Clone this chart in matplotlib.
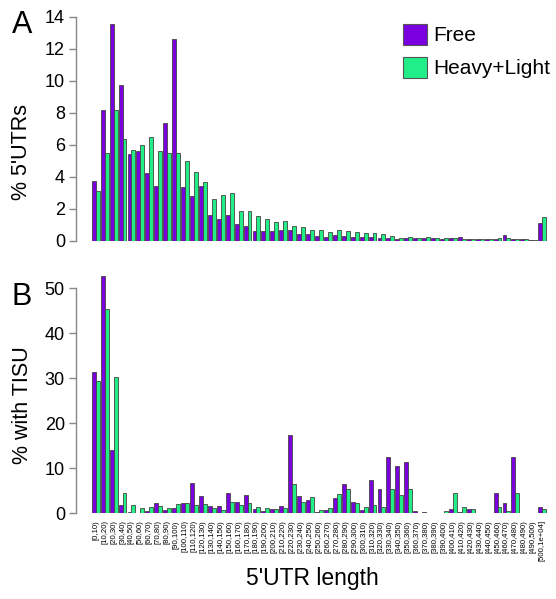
import matplotlib
matplotlib.use("Agg")
import matplotlib.pyplot as plt
import numpy as np
from matplotlib.patches import Patch

plt.rcParams['font.family'] = ['Liberation Sans', 'DejaVu Sans']

categories = ["[0,10)"] + [f"[{a},{a+10})" for a in range(10, 500, 10)] + ["[500,1e+04]"]

pct_free = [3.75, 8.2, 13.55, 9.75, 5.45, 5.65, 4.25, 3.45, 7.4, 12.6,
            3.35, 2.8, 3.45, 1.6, 1.4, 1.65, 1.05, 0.95, 0.6, 0.65,
            0.63, 0.69, 0.67, 0.44, 0.44, 0.33, 0.27, 0.38, 0.29, 0.25,
            0.25, 0.25, 0.21, 0.17, 0.15, 0.17, 0.17, 0.17, 0.2, 0.13,
            0.17, 0.23, 0.12, 0.1, 0.12, 0.15, 0.35, 0.15, 0.1, 0.08, 1.15]
pct_hl = [3.15, 5.5, 8.2, 6.4, 5.7, 6.0, 6.5, 5.6, 5.5, 5.5,
          5.0, 4.3, 3.7, 2.65, 2.9, 3.0, 1.9, 1.9, 1.55, 1.36,
          1.17, 1.23, 0.94, 0.85, 0.69, 0.69, 0.58, 0.67, 0.63, 0.54,
          0.52, 0.48, 0.42, 0.29, 0.21, 0.25, 0.2, 0.23, 0.2, 0.17,
          0.17, 0.15, 0.12, 0.12, 0.14, 0.2, 0.2, 0.15, 0.1, 0.08, 1.52]

tisu_free = [31.5, 52.7, 14.1, 1.85, 0.2, 0.15, 0.4, 2.3, 0.67, 1.1,
             2.3, 6.7, 3.85, 1.7, 1.7, 4.6, 2.6, 4.1, 1.0, 0.5,
             1.0, 1.55, 17.5, 3.85, 3.0, 0.3, 0.74, 3.3, 6.6, 2.4,
             0.67, 7.3, 5.3, 12.4, 10.4, 11.5, 0.6, 0.2, 0.1, 0.1,
             0.9, 0.2, 1.0, 0.1, 0.1, 4.6, 2.2, 12.4, 0.1, 0.1, 1.3]
tisu_hl = [29.3, 45.3, 30.4, 4.4, 1.85, 1.26, 1.4, 1.7, 1.1, 2.0,
           2.3, 1.85, 2.15, 1.1, 0.8, 2.4, 1.85, 2.3, 1.4, 1.1,
           1.0, 1.26, 6.4, 2.5, 3.7, 0.8, 1.1, 4.2, 5.3, 2.2,
           1.4, 1.85, 1.5, 5.5, 4.1, 5.3, 0.15, 0.1, 0.1, 0.4,
           4.6, 1.4, 1.0, 0.1, 0.1, 1.4, 0.5, 4.4, 0.1, 0.1, 1.0]

series_names = ["Free", "Heavy+Light"]
colors = ["#7A00E0", "#22EE88"]
edge = "#444444"

W, H = 556, 599
fig = plt.figure(figsize=(W / 100, H / 100), dpi=100)

def px_axes(left, top, right, bottom):
    return fig.add_axes([left / W, 1 - bottom / H, (right - left) / W, (bottom - top) / H])

x = np.arange(len(categories))
bw = 0.44
unit = 8.93
xl = -0.45 - (91.7 - 76) / unit
xr = xl + (548 - 76) / unit

def style(ax, top, step):
    for s in ['top', 'right', 'bottom']:
        ax.spines[s].set_visible(False)
    ax.spines['left'].set_color('#888888')
    ax.spines['left'].set_linewidth(1.0)
    ax.spines['left'].set_bounds(0, top)
    ax.set_yticks(np.arange(0, top + 0.01, step))
    ax.tick_params(axis='y', direction='out', length=5, width=1.0, color='#888888',
                   labelsize=13, pad=3)
    ax.set_xlim(xl, xr)

# Panel A
axA = px_axes(76, 17, 548, 241)
axA.bar(x - bw / 2, pct_free, bw, color=colors[0], edgecolor=edge, linewidth=0.6)
axA.bar(x + bw / 2, pct_hl, bw, color=colors[1], edgecolor=edge, linewidth=0.6)
axA.set_ylim(0, 14)
style(axA, 14, 2)
axA.set_xticks([])

# Panel B
axB = px_axes(76, 513.3 - 55 * 4.5, 548, 513.3)
axB.bar(x - bw / 2, tisu_free, bw, color=colors[0], edgecolor=edge, linewidth=0.6)
axB.bar(x + bw / 2, tisu_hl, bw, color=colors[1], edgecolor=edge, linewidth=0.6)
axB.set_ylim(0, 55)
style(axB, 50, 10)
axB.set_xticks(x)
axB.set_xticklabels(categories, rotation=90, fontsize=5.6, va='top', ha='center')
axB.tick_params(axis='x', length=0, pad=5)

# Legend
handles = [Patch(facecolor=c, edgecolor='#555555', linewidth=0.8) for c in colors]
fig.legend(handles, series_names, loc='upper left',
           bbox_to_anchor=(403 / W, 1 - 24 / H), bbox_transform=fig.transFigure,
           frameon=False, fontsize=15, handlelength=1.15, handleheight=1.15,
           handletextpad=0.3, labelspacing=0.55, borderpad=0, borderaxespad=0)

# Labels
fig.text(22 / W, 1 - 152 / H, "% 5'UTRs", rotation=90, ha='center', va='center', fontsize=15.5)
fig.text(23 / W, 1 - 405 / H, "% with TISU", rotation=90, ha='center', va='center', fontsize=15.5)
fig.text(312 / W, 1 - 578 / H, "5'UTR length", ha='center', va='center', fontsize=16.5)
fig.text(22 / W, 1 - 25 / H, "A", ha='center', va='center', fontsize=22)
fig.text(22 / W, 1 - 297 / H, "B", ha='center', va='center', fontsize=22)

fig.savefig("out.png", dpi=100)
